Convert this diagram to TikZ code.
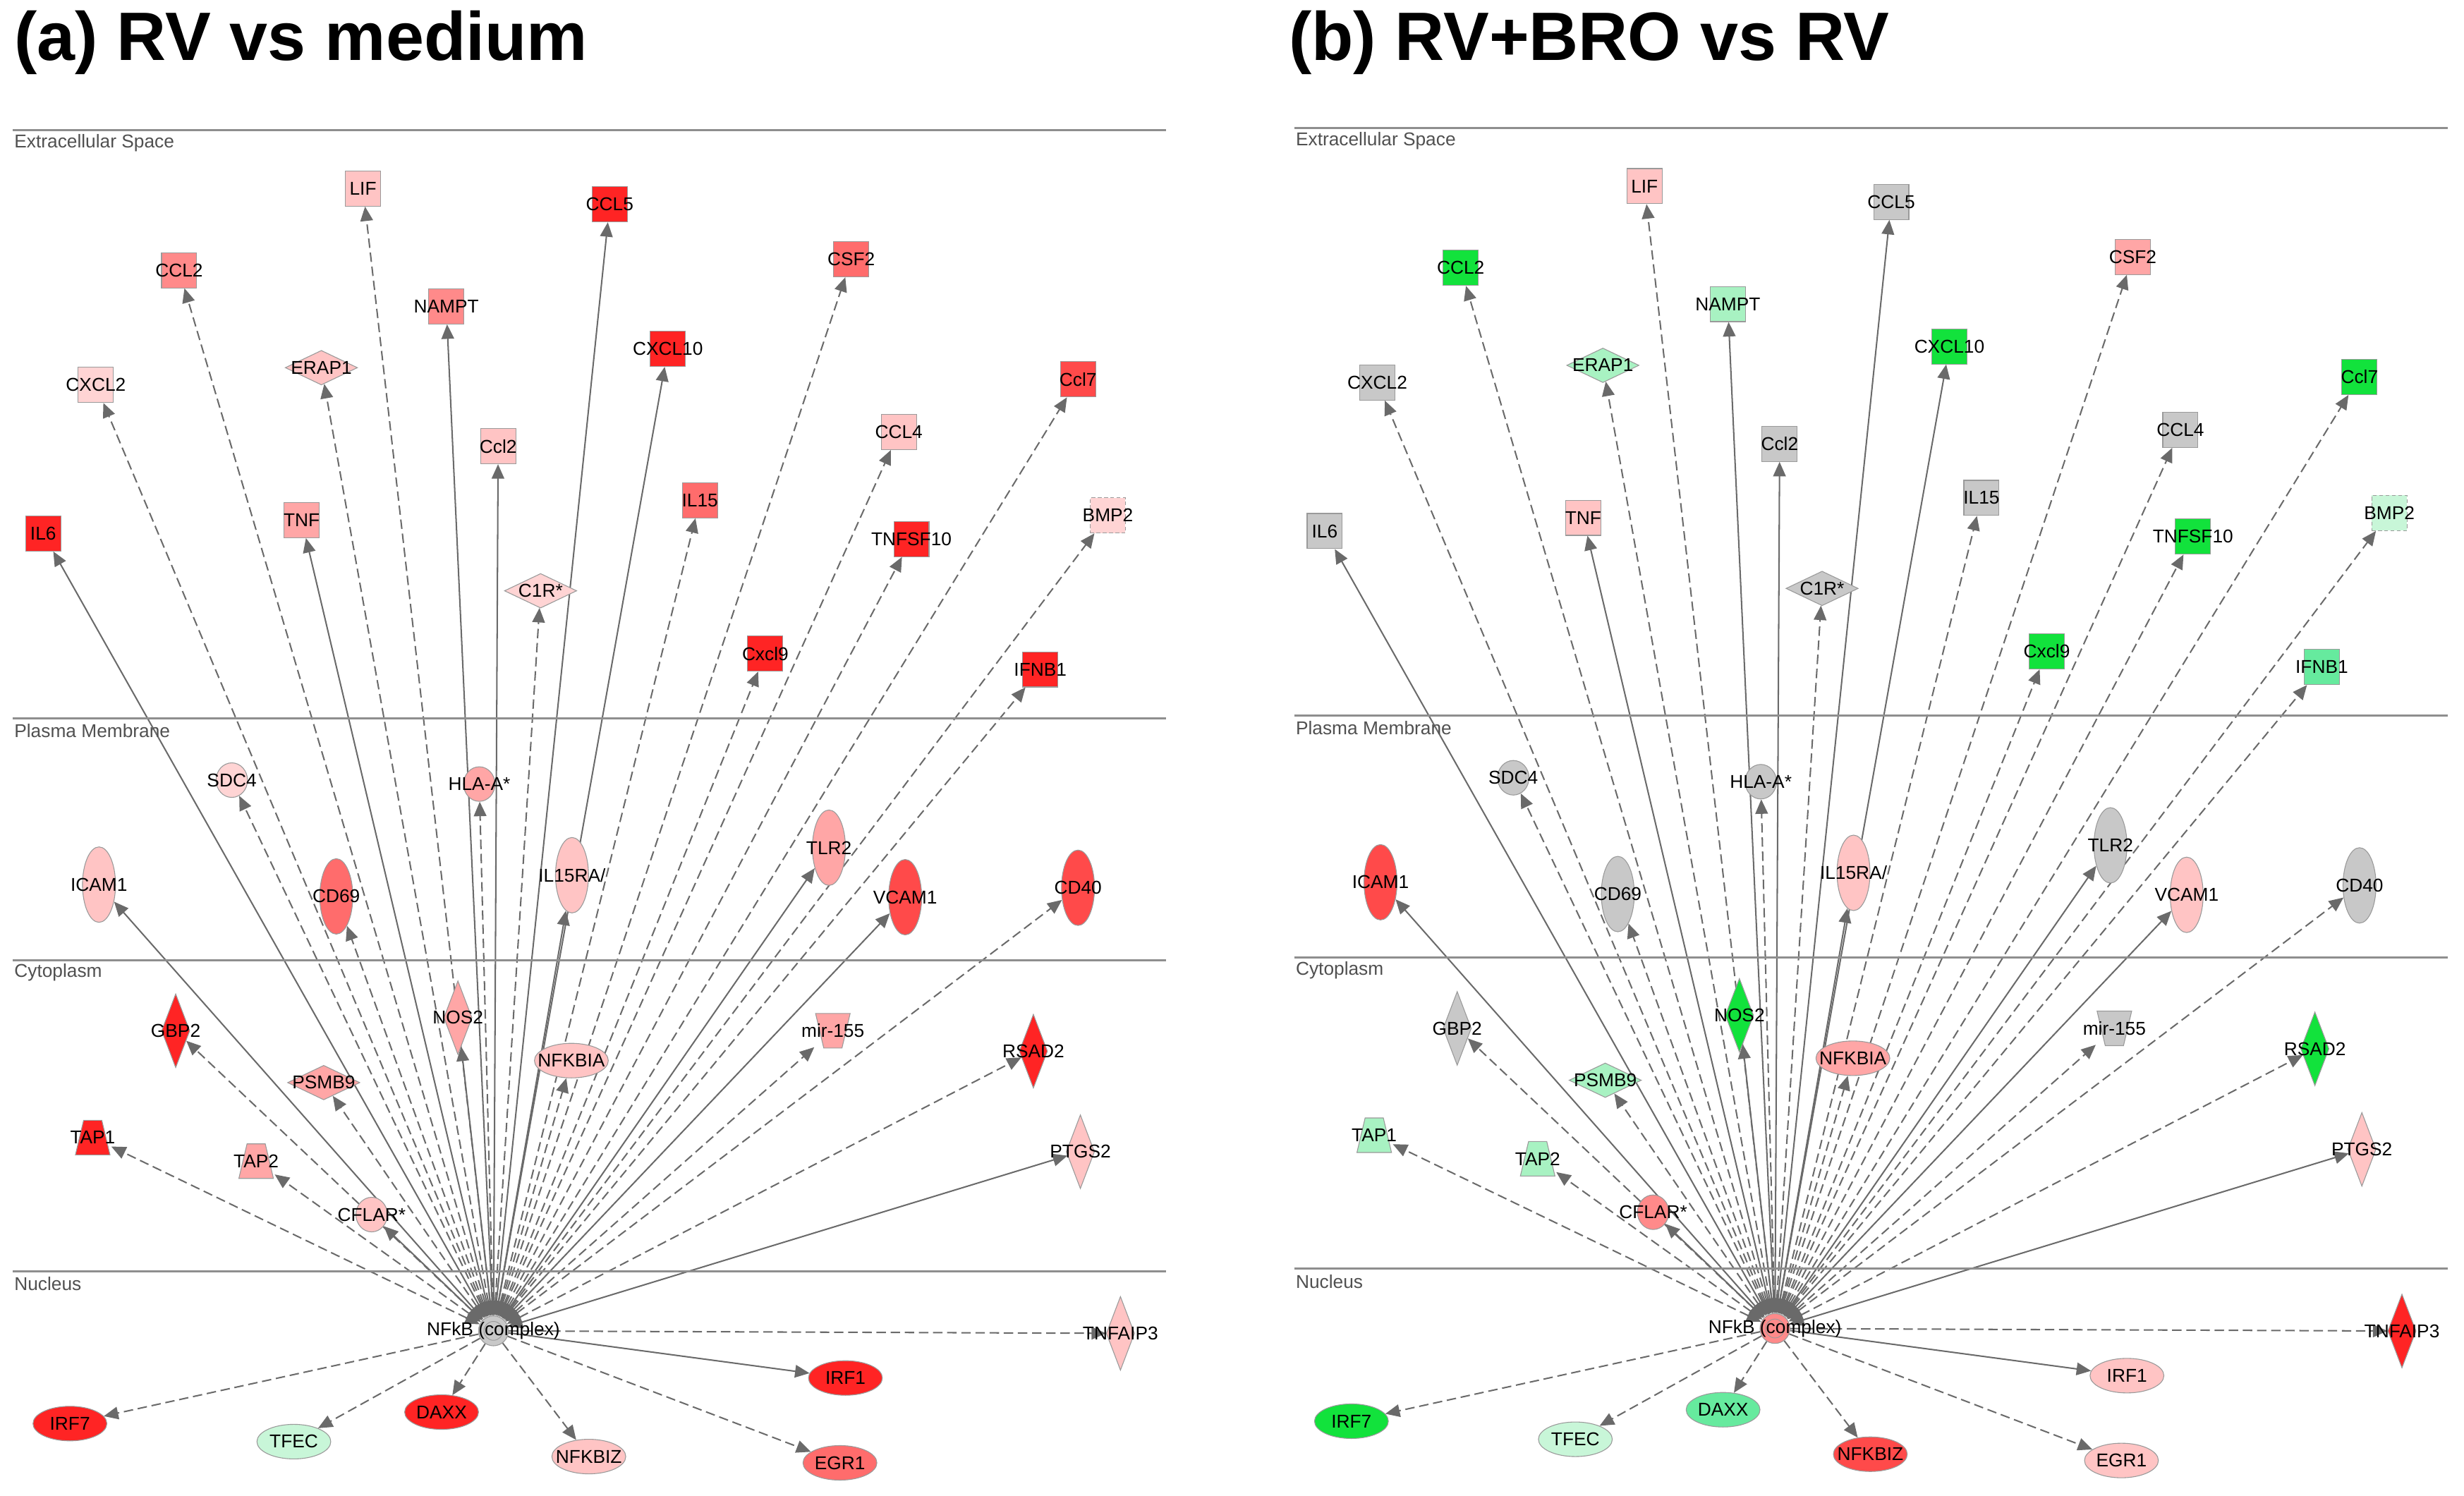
\documentclass[tikz,border=0pt]{standalone}
\usepackage{fontspec}
\setmainfont{Liberation Sans}
\usetikzlibrary{shapes.geometric,arrows.meta,backgrounds}

% expression colours
\definecolor{rA}{HTML}{FF2424}
\definecolor{rB}{HTML}{FF4A4A}
\definecolor{rC}{HTML}{FF6C6C}
\definecolor{rD}{HTML}{FF8A8A}
\definecolor{rE}{HTML}{FFA6A6}
\definecolor{rF}{HTML}{FFC4C4}
\definecolor{rG}{HTML}{FFD4D4}
\definecolor{gy}{HTML}{C8C8C8}
\definecolor{gA}{HTML}{12E23C}
\definecolor{gB}{HTML}{66EA9E}
\definecolor{gC}{HTML}{A8F2C2}
\definecolor{gD}{HTML}{C8F6D8}
\definecolor{edgegray}{HTML}{6A6A6A}
\definecolor{nodeline}{HTML}{9A9A9A}
\definecolor{sectgray}{HTML}{8E8E8E}
\definecolor{comptext}{HTML}{505050}

\newcommand{\genefont}{\fontsize{16.8}{18}\selectfont}

\tikzset{
  gbase/.style={draw=nodeline, line width=0.7pt, inner sep=0pt},
  gsq/.style={gbase, shape=rectangle, minimum width=11.2mm, minimum height=11.2mm},
  gsqd/.style={gsq, dash pattern=on 1.2mm off 0.8mm},
  gwdia/.style={gbase, shape=diamond, minimum width=23mm, minimum height=11mm},
  gtdia/.style={gbase, shape=diamond, minimum width=9mm, minimum height=23.5mm},
  gsm/.style={gbase, shape=ellipse, minimum width=10mm, minimum height=11mm},
  gtell/.style={gbase, shape=ellipse, minimum width=10.5mm, minimum height=24mm},
  gwell/.style={gbase, shape=ellipse, minimum width=23.5mm, minimum height=11mm},
  gtrap/.style={gbase, shape=rectangle, draw=none, fill=white,
    minimum width=11.6mm, minimum height=11.6mm,
    path picture={\filldraw[fill=fc, draw=nodeline, line width=0.7pt]
      ([xshift=-5.5mm,yshift=-5.5mm]path picture bounding box.center)
      -- ++(11mm,0) -- ++(-2.6mm,11mm) -- ++(-5.8mm,0) -- cycle;}},
  gmir/.style={gbase, shape=rectangle, draw=none, fill=white,
    minimum width=11.6mm, minimum height=11.6mm,
    path picture={\filldraw[fill=fc, draw=nodeline, line width=0.7pt]
      ([xshift=-2.9mm,yshift=-5.5mm]path picture bounding box.center)
      -- ++(5.8mm,0) -- ++(2.6mm,11mm) -- ++(-11mm,0) -- cycle;}},
  gcplx/.style={gbase, shape=circle, minimum size=9.5mm,
    path picture={\draw[nodeline, line width=0.6pt] (path picture bounding box.center) circle (3mm);}},
  edge/.style={draw=edgegray, line width=1.3pt},
  bothsolid/.style={edge, {Triangle[length=4.6mm,width=4mm]}-{Triangle[length=4.6mm,width=4mm]}},
  bothdash/.style={bothsolid, dash pattern=on 3mm off 1.5mm},
  onesolid/.style={edge, -{Triangle[length=4.6mm,width=4mm]}},
  onedash/.style={onesolid, dash pattern=on 3mm off 1.5mm},
  sect/.style={draw=sectgray, line width=2pt},
  comp/.style={anchor=west, inner sep=0pt, text=comptext, font=\genefont},
  ttl/.style={anchor=west, inner sep=0pt, font=\fontsize{62}{72}\selectfont\bfseries}
}

\begin{document}
\begin{tikzpicture}[x=0.5mm, y=-0.5mm,
    every label/.style={font=\genefont, inner sep=0pt}]
\useasboundingbox (0,0) rectangle (1568,952);

\node[ttl] (atitle) at (9,27) {(a) RV vs medium};
\node[ttl] (btitle) at (820,27) {(b) RV+BRO vs RV};

\foreach \p/\dx/\dy/\k in {a/0/0/1,b/815.5/-1.5/2} {
  \begin{scope}[shift={(\dx,\dy)}]
    % compartments
    \draw[sect] (8,83) -- (742,83);
    \draw[sect] (8,457) -- (742,457);
    \draw[sect] (8,611) -- (742,611);
    \draw[sect] (8,809) -- (742,809);
    \node[comp] (\p ext) at (9,91) {Extracellular Space};
    \node[comp] (\p pm) at (9,465) {Plasma Membrane};
    \node[comp] (\p cyt) at (9,619) {Cytoplasm};
    \node[comp] (\p nuc) at (9,817) {Nucleus};

    % hub
    \ifnum\k=1 \colorlet{fc}{gy}\else\colorlet{fc}{rD}\fi
    \node[fill=fc, gcplx, label=center:NFkB (complex)] (\p NFkB) at (314,847) {};

    % molecules
    \foreach \id/\x/\y/\shp/\ca/\cb/\txt in {
      IL6/27.5/339.5/gsq/rA/gy/IL6,
      CXCL2/61/245/gsq/rG/gy/CXCL2,
      CCL2/114/172/gsq/rD/gA/CCL2,
      TNF/192/331/gsq/rE/rF/TNF,
      LIF/231/120/gsq/rF/rF/LIF,
      NAMPT/284/195/gsq/rD/gC/NAMPT,
      Ccl2/317/284/gsq/rF/gy/Ccl2,
      CCL5/388/130/gsq/rA/gy/CCL5,
      CXCL10/425/222/gsq/rA/gA/CXCL10,
      IL15/445.4/318.4/gsq/rC/gy/IL15,
      Cxcl9/487/416/gsq/rA/gA/Cxcl9,
      CSF2/541.7/165/gsq/rC/rE/CSF2,
      CCL4/572/275/gsq/rF/gy/CCL4,
      TNFSF10/580/343/gsq/rA/gA/TNFSF10,
      Ccl7/686/241.4/gsq/rB/gA/Ccl7,
      BMP2/705/328/gsqd/rG/gD/BMP2,
      IFNB1/662/426/gsq/rA/gB/IFNB1,
      ERAP1/204.5/234/gwdia/rF/gC/ERAP1,
      C1R/344/376/gwdia/rG/gy/C1R*,
      SDC4/147.5/496.5/gsm/rG/gy/SDC4,
      HLA/305/499/gsm/rE/gy/HLA-A*,
      ICAM1/63/563/gtell/rF/rB/ICAM1,
      CD69/214/570.5/gtell/rC/gy/CD69,
      IL15RA/364/557/gtell/rF/rF/{IL15RA/},
      TLR2/527.5/539.5/gtell/rE/gy/TLR2,
      VCAM1/576/571/gtell/rB/rF/VCAM1,
      CD40/686/565/gtell/rB/gy/CD40,
      GBP2/111.8/656/gtdia/rA/gy/GBP2,
      NOS2/291.4/647.7/gtdia/rE/gA/NOS2,
      RSAD2/657.6/669/gtdia/rA/gA/RSAD2,
      PTGS2/687.5/733/gtdia/rF/rF/PTGS2,
      NFKBIA/363.6/675/gwell/rF/rE/NFKBIA,
      PSMB9/206/689/gwdia/rE/gC/PSMB9,
      TAP1/59/724/gtrap/rA/gC/TAP1,
      TAP2/163/739/gtrap/rE/gC/TAP2,
      mir/530/656/gmir/rE/gy/mir-155,
      CFLAR/236.5/773/gsm/rF/rD/CFLAR*,
      TNFAIP3/713/848.6/gtdia/rF/rA/TNFAIP3,
      IRF7/44.5/906/gwell/rA/gA/IRF7,
      TFEC/187/917.5/gwell/gD/gD/TFEC,
      DAXX/281/898.7/gwell/rA/gB/DAXX,
      NFKBIZ/374.7/927/gwell/rF/rB/NFKBIZ,
      IRF1/538/877/gwell/rA/rF/IRF1,
      EGR1/534.5/931/gwell/rC/rF/EGR1} {
      \ifnum\k=1 \colorlet{fc}{\ca}\else\colorlet{fc}{\cb}\fi
      \node[fill=fc, \shp, label=center:\txt] (\p\id) at (\x,\y) {};
    }

    % relations
    \begin{scope}[on background layer]
      \foreach \id/\es in {IL6/bothsolid, CXCL2/bothdash, CCL2/bothdash,
          TNF/bothsolid, LIF/bothdash, NAMPT/bothsolid, Ccl2/bothsolid,
          CCL5/bothsolid, CXCL10/bothsolid, IL15/bothdash, Cxcl9/bothdash,
          CSF2/bothdash, CCL4/bothdash, TNFSF10/bothdash, Ccl7/bothdash,
          BMP2/bothdash, IFNB1/bothdash, ERAP1/bothdash, C1R/bothdash,
          SDC4/bothdash, HLA/bothdash, ICAM1/bothsolid, CD69/bothdash,
          IL15RA/bothsolid, TLR2/bothsolid, VCAM1/bothsolid, CD40/bothdash,
          GBP2/bothdash, NOS2/bothsolid, RSAD2/bothdash, PTGS2/bothsolid,
          NFKBIA/bothdash, PSMB9/bothdash, TAP1/bothdash, TAP2/bothdash,
          mir/bothdash, CFLAR/bothsolid, TNFAIP3/onedash, IRF7/onedash,
          TFEC/onedash, DAXX/onedash, NFKBIZ/onedash, IRF1/onesolid,
          EGR1/onedash}
        \draw[\es] (\p NFkB) -- (\p\id);
    \end{scope}
  \end{scope}
}
\end{tikzpicture}
\end{document}
